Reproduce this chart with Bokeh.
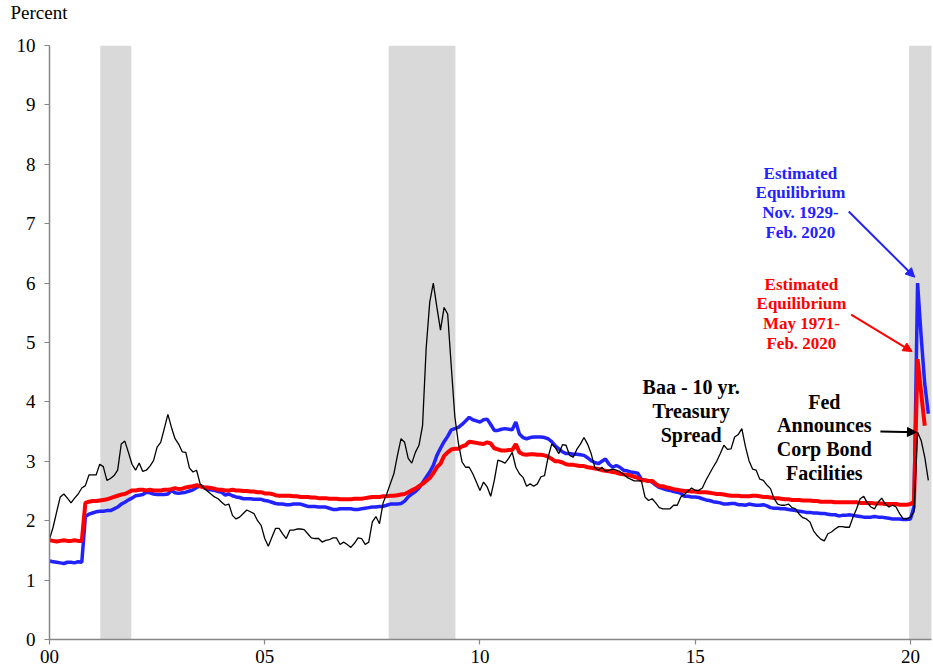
import numpy as np
import pandas as pd
from bokeh.plotting import figure
from bokeh.models import (BoxAnnotation, Arrow, NormalHead, FixedTicker,
                          ColumnDataSource, Title)
from bokeh.core.properties import value
from bokeh.embed import file_html
from bokeh.resources import INLINE

# ---------------- data (monthly, Jan 2000 onward) ----------------
baa_spread = [
    1.69, 1.89, 2.15, 2.40, 2.45, 2.38, 2.30, 2.38, 2.45, 2.55, 2.59, 2.77,  # 2000
    2.77, 2.77, 2.95, 2.91, 2.68, 2.71, 2.76, 2.85, 3.29, 3.34, 3.15, 2.95,  # 2001
    2.85, 2.97, 2.83, 2.85, 2.92, 3.01, 3.24, 3.32, 3.55, 3.79, 3.57, 3.38,  # 2002
    3.29, 3.16, 3.15, 2.89, 2.82, 2.85, 2.62, 2.55, 2.50, 2.45, 2.40, 2.37,  # 2003
    2.31, 2.26, 2.28, 2.09, 2.03, 2.06, 2.12, 2.18, 2.15, 2.12, 2.00, 1.92,  # 2004
    1.70, 1.57, 1.72, 1.87, 1.87, 1.78, 1.70, 1.84, 1.84, 1.86, 1.86, 1.85,  # 2005
    1.78, 1.71, 1.70, 1.70, 1.64, 1.67, 1.68, 1.71, 1.71, 1.60, 1.64, 1.60,  # 2006
    1.55, 1.62, 1.71, 1.70, 1.60, 1.64, 1.98, 2.07, 1.95, 2.30, 2.45, 2.62,  # 2007
    2.79, 3.10, 3.38, 3.32, 3.05, 2.97, 3.15, 3.27, 3.60, 4.90, 5.68, 6.00,  # 2008
    5.59, 5.21, 5.59, 5.48, 4.60, 3.75, 3.30, 2.99, 2.90, 2.90, 2.79, 2.65,  # 2009
    2.51, 2.65, 2.57, 2.41, 2.68, 3.02, 3.00, 2.97, 3.05, 3.15, 2.90, 2.79,  # 2010
    2.73, 2.58, 2.62, 2.58, 2.62, 2.74, 2.76, 3.07, 3.29, 3.23, 3.13, 3.28,  # 2011
    3.27, 3.10, 3.07, 3.20, 3.29, 3.40, 3.29, 3.13, 2.90, 2.85, 2.90, 2.83,  # 2012
    2.85, 2.87, 2.85, 2.83, 2.78, 2.73, 2.70, 2.67, 2.67, 2.67, 2.40, 2.34,  # 2013
    2.37, 2.30, 2.22, 2.20, 2.20, 2.20, 2.26, 2.26, 2.40, 2.44, 2.50, 2.55,  # 2014
    2.51, 2.51, 2.55, 2.68, 2.79, 2.90, 3.00, 3.13, 3.27, 3.20, 3.21, 3.41,  # 2015
    3.45, 3.55, 3.25, 3.01, 2.87, 2.85, 2.70, 2.68, 2.60, 2.54, 2.37, 2.28,  # 2016
    2.26, 2.26, 2.28, 2.22, 2.20, 2.11, 2.05, 2.03, 1.98, 1.83, 1.75, 1.69,  # 2017
    1.66, 1.78, 1.81, 1.86, 1.90, 1.90, 1.89, 1.89, 2.06, 2.20, 2.37, 2.41,  # 2018
    2.30, 2.23, 2.20, 2.31, 2.38, 2.28, 2.23, 2.26, 2.23, 2.12, 2.03, 2.03,  # 2019
    2.06, 2.15, 3.49, 3.35, 3.07, 2.68,                                      # 2020
]

equil_1971 = [
    1.67, 1.66, 1.65, 1.66, 1.67, 1.66, 1.66, 1.67, 1.66, 1.66, 2.30, 2.32,  # 2000
    2.33, 2.33, 2.34, 2.35, 2.36, 2.38, 2.40, 2.42, 2.44, 2.45, 2.48, 2.51,  # 2001
    2.51, 2.52, 2.52, 2.51, 2.52, 2.51, 2.51, 2.51, 2.52, 2.52, 2.53, 2.55,  # 2002
    2.53, 2.54, 2.56, 2.57, 2.58, 2.60, 2.58, 2.56, 2.56, 2.55, 2.54, 2.52,  # 2003
    2.52, 2.51, 2.51, 2.52, 2.51, 2.51, 2.50, 2.50, 2.49, 2.49, 2.48, 2.48,  # 2004
    2.46, 2.46, 2.45, 2.43, 2.42, 2.42, 2.42, 2.42, 2.41, 2.41, 2.40, 2.40,  # 2005
    2.40, 2.39, 2.39, 2.38, 2.38, 2.38, 2.37, 2.37, 2.37, 2.36, 2.36, 2.36,  # 2006
    2.36, 2.37, 2.37, 2.37, 2.38, 2.39, 2.40, 2.40, 2.40, 2.41, 2.41, 2.42,  # 2007
    2.42, 2.43, 2.44, 2.45, 2.48, 2.51, 2.54, 2.58, 2.62, 2.67, 2.72, 2.80,  # 2008
    2.90, 2.96, 3.09, 3.15, 3.20, 3.21, 3.21, 3.25, 3.27, 3.33, 3.32, 3.31,  # 2009
    3.30, 3.29, 3.32, 3.30, 3.22, 3.20, 3.18, 3.18, 3.19, 3.19, 3.29, 3.15,  # 2010
    3.12, 3.11, 3.12, 3.12, 3.11, 3.11, 3.10, 3.08, 3.04, 3.00, 3.00, 2.98,  # 2011
    2.95, 2.94, 2.94, 2.93, 2.92, 2.92, 2.90, 2.89, 2.88, 2.87, 2.85, 2.84,  # 2012
    2.83, 2.82, 2.81, 2.79, 2.78, 2.77, 2.76, 2.74, 2.72, 2.68, 2.68, 2.67,  # 2013
    2.67, 2.62, 2.58, 2.58, 2.56, 2.55, 2.53, 2.52, 2.51, 2.50, 2.50, 2.49,  # 2014
    2.49, 2.48, 2.48, 2.48, 2.47, 2.46, 2.45, 2.45, 2.44, 2.43, 2.42, 2.42,  # 2015
    2.42, 2.41, 2.41, 2.41, 2.42, 2.42, 2.41, 2.40, 2.40, 2.39, 2.38, 2.38,  # 2016
    2.37, 2.36, 2.36, 2.35, 2.35, 2.35, 2.34, 2.34, 2.34, 2.33, 2.33, 2.32,  # 2017
    2.32, 2.32, 2.32, 2.31, 2.31, 2.31, 2.31, 2.31, 2.31, 2.31, 2.30, 2.30,  # 2018
    2.30, 2.30, 2.29, 2.29, 2.29, 2.28, 2.28, 2.28, 2.28, 2.27, 2.27, 2.27,  # 2019
    2.28, 2.32, 4.72, 4.15, 3.60,                                            # 2020
]

equil_1929 = [
    1.32, 1.31, 1.30, 1.29, 1.28, 1.30, 1.30, 1.29, 1.31, 1.30, 2.07, 2.11,  # 2000
    2.13, 2.15, 2.16, 2.16, 2.17, 2.17, 2.20, 2.23, 2.28, 2.31, 2.35, 2.38,  # 2001
    2.42, 2.43, 2.44, 2.48, 2.47, 2.45, 2.44, 2.44, 2.44, 2.45, 2.51, 2.47,  # 2002
    2.46, 2.47, 2.48, 2.50, 2.52, 2.56, 2.59, 2.56, 2.53, 2.52, 2.51, 2.49,  # 2003
    2.48, 2.43, 2.45, 2.42, 2.40, 2.39, 2.37, 2.37, 2.37, 2.36, 2.36, 2.36,  # 2004
    2.34, 2.33, 2.31, 2.29, 2.28, 2.28, 2.27, 2.27, 2.28, 2.28, 2.28, 2.26,  # 2005
    2.24, 2.24, 2.24, 2.23, 2.23, 2.23, 2.21, 2.19, 2.19, 2.20, 2.20, 2.20,  # 2006
    2.20, 2.19, 2.19, 2.20, 2.21, 2.22, 2.23, 2.23, 2.24, 2.24, 2.26, 2.28,  # 2007
    2.28, 2.28, 2.29, 2.33, 2.40, 2.45, 2.49, 2.55, 2.64, 2.73, 2.82, 2.93,  # 2008
    3.10, 3.22, 3.33, 3.42, 3.53, 3.55, 3.57, 3.62, 3.68, 3.74, 3.70, 3.68,  # 2009
    3.66, 3.70, 3.71, 3.62, 3.52, 3.52, 3.54, 3.55, 3.54, 3.53, 3.66, 3.46,  # 2010
    3.40, 3.38, 3.40, 3.41, 3.41, 3.41, 3.40, 3.38, 3.33, 3.26, 3.21, 3.16,  # 2011
    3.13, 3.13, 3.12, 3.12, 3.11, 3.10, 3.06, 3.01, 2.98, 2.96, 3.00, 3.04,  # 2012
    2.95, 2.90, 2.93, 2.90, 2.85, 2.84, 2.82, 2.81, 2.80, 2.70, 2.68, 2.67,  # 2013
    2.65, 2.60, 2.56, 2.54, 2.52, 2.51, 2.49, 2.48, 2.46, 2.41, 2.41, 2.40,  # 2014
    2.40, 2.39, 2.37, 2.35, 2.34, 2.32, 2.31, 2.30, 2.28, 2.28, 2.29, 2.29,  # 2015
    2.27, 2.27, 2.26, 2.28, 2.27, 2.26, 2.26, 2.27, 2.25, 2.22, 2.21, 2.21,  # 2016
    2.20, 2.20, 2.19, 2.18, 2.17, 2.16, 2.15, 2.14, 2.14, 2.13, 2.13, 2.12,  # 2017
    2.12, 2.11, 2.10, 2.10, 2.08, 2.09, 2.09, 2.10, 2.09, 2.08, 2.07, 2.06,  # 2018
    2.06, 2.06, 2.07, 2.06, 2.06, 2.05, 2.04, 2.03, 2.03, 2.03, 2.02, 2.02,  # 2019
    2.03, 2.23, 6.00, 5.10, 4.30, 3.80,                                      # 2020
]

recession_start = [2001.18, 2007.88, 2019.97]
recession_end = [2001.90, 2009.43, 2020.50]

x_ticks = [2000, 2005, 2010, 2015, 2020]
x_tick_labels = ["00", "05", "10", "15", "20"]
y_ticks = [0, 1, 2, 3, 4, 5, 6, 7, 8, 9, 10]


def decimal_months(n):
    d = pd.date_range("2000-01-01", periods=n, freq="MS")
    return list(d.year + (d.month - 1) / 12.0)


FONT = "Liberation Serif"
BLUE = "#2222ff"
RED = "#ff0000"

p = figure(width=933, height=671, output_backend="svg", toolbar_location=None,
           x_range=(2000, 2020.49), y_range=(0, 10),
           min_border_left=49, min_border_right=2, min_border_top=45,
           min_border_bottom=32)
p.outline_line_color = None
p.xgrid.visible = False
p.ygrid.visible = False
p.background_fill_color = "white"

# recession shading
for s, e in zip(recession_start, recession_end):
    p.add_layout(BoxAnnotation(left=s, right=e, fill_color="#d9d9d9",
                               fill_alpha=1.0, line_color=None, level="underlay"))

src_b = ColumnDataSource(dict(x=decimal_months(len(equil_1929)), y=equil_1929))
src_r = ColumnDataSource(dict(x=decimal_months(len(equil_1971)), y=equil_1971))
src_k = ColumnDataSource(dict(x=decimal_months(len(baa_spread)), y=baa_spread))

p.line("x", "y", source=src_b, line_color=BLUE, line_width=3.5)
p.line("x", "y", source=src_r, line_color=RED, line_width=4)
p.line("x", "y", source=src_k, line_color="black", line_width=1.3)

# axes
for ax in (p.xaxis[0], p.yaxis[0]):
    ax.axis_line_color = "#868686"
    ax.axis_line_width = 1.5
    ax.major_tick_line_color = "#868686"
    ax.major_tick_line_width = 1.2
    ax.major_tick_in = 0
    ax.major_tick_out = 5
    ax.minor_tick_line_color = None
    ax.major_label_text_font = FONT
    ax.major_label_text_font_size = "19px"
    ax.major_label_text_color = "black"

p.xaxis.ticker = FixedTicker(ticks=x_ticks)
p.xaxis.major_label_overrides = dict(zip(x_ticks, x_tick_labels))
p.xaxis.major_label_standoff = 5
p.yaxis.ticker = FixedTicker(ticks=y_ticks)
p.yaxis.major_label_standoff = 9

# "Percent" unit label above the y axis (second blank line pushes it up)
p.title = Title(text="Percent\n ", align="left", offset=-39, standoff=0,
                vertical_align="top",
                text_font=FONT, text_font_size="19px", text_line_height=1.0,
                text_font_style="normal", text_color="black")

# annotations
notes = [
    ("Estimated\nEquilibrium\nNov. 1929-\nFeb. 2020", 2017.445, 7.354, BLUE, "17px", 1.04),
    ("Estimated\nEquilibrium\nMay 1971-\nFeb. 2020", 2017.468, 5.483, RED, "17px", 1.04),
    ("Baa - 10 yr.\nTreasury\nSpread", 2014.906, 3.85, "black", "20px", 1.08),
    ("Fed\nAnnounces\nCorp Bond\nFacilities", 2018.0, 3.406, "black", "20px", 1.08),
]
for txt, nx, ny, col, fs, lh in notes:
    p.text(x=[nx], y=[ny], text=[txt], text_color=col, text_font=value(FONT),
           text_font_size=fs, text_font_style="bold", text_align="center",
           text_baseline="middle", text_line_height=lh)

arrows = [
    (2018.567, 7.205, 2020.100, 6.099, BLUE),
    (2018.623, 5.471, 2020.040, 4.848, RED),
    (2019.303, 3.502, 2020.140, 3.490, "black"),
]
for x0, y0, x1, y1, col in arrows:
    p.add_layout(Arrow(x_start=x0, y_start=y0, x_end=x1, y_end=y1,
                       line_color=col, line_width=2,
                       end=NormalHead(size=9, fill_color=col, line_color=col)))

open("out.html", "w").write(file_html(p, INLINE))
